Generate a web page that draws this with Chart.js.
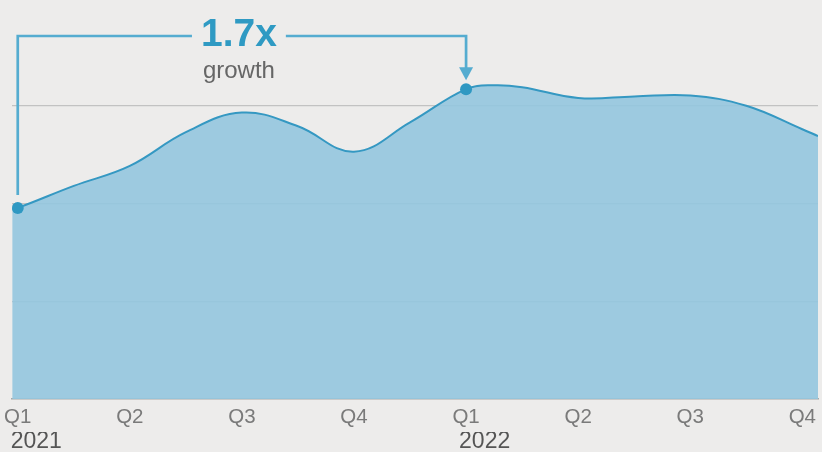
<!DOCTYPE html>
<html lang="en">
<head>
<meta charset="UTF-8">
<title>Growth</title>
<script src="https://cdn.jsdelivr.net/npm/chart.js"></script>
<style>
  body { margin: 0; background: #edeceb; }
  #wrap { width: 822px; height: 452px; position: relative; }
</style>
</head>
<body>
<div id="wrap"><canvas id="growthChart"></canvas></div>
<script>
// x runs in quarters: 0 = Q1 2021, 4 = Q1 2022, 7 = Q4 2022
const xValues = [-0.05, 0, 0.5, 1, 1.5, 2, 2.5, 3, 3.5, 4, 4.25, 4.5, 5, 5.5, 6, 6.5, 7, 7.14];
const yValues = [1.95, 1.955, 2.18, 2.385, 2.73, 2.93, 2.79, 2.53, 2.83, 3.17, 3.21, 3.19, 3.08, 3.095, 3.105, 3.0, 2.76, 2.69];
const quarterLabels = ['Q1', 'Q2', 'Q3', 'Q4', 'Q1', 'Q2', 'Q3', 'Q4'];
const yearTicks = [0, 4];
const yearLabels = ['2021', '2022'];
const gridValues = [0, 1, 2, 3, 4];
const startIndex = 1;   // Q1 2021 marker
const endIndex = 9;     // Q1 2022 marker
const growthText = '1.7x';
const growthSub = 'growth';

const FONT = "'Liberation Sans', Arial, Helvetica, sans-serif";

const growthBracket = {
    id: 'growthBracket',
    afterDatasetsDraw(chart) {
        const { ctx, scales: { x, y } } = chart;
        const xa = x.getPixelForValue(xValues[startIndex]);
        const ya = y.getPixelForValue(yValues[startIndex]);
        const xb = x.getPixelForValue(xValues[endIndex]);
        const yb = y.getPixelForValue(yValues[endIndex]);
        const top = 36;
        const mid = (xa + xb) / 2 - 3;

        ctx.save();
        ctx.font = "bold 39px " + FONT;
        const tw = ctx.measureText(growthText).width;
        ctx.strokeStyle = '#55acd0';
        ctx.lineWidth = 2.7;
        ctx.beginPath();
        ctx.moveTo(xa, ya - 13);
        ctx.lineTo(xa, top);
        ctx.lineTo(mid - tw / 2 - 9, top);
        ctx.moveTo(mid + tw / 2 + 9, top);
        ctx.lineTo(xb, top);
        ctx.lineTo(xb, yb - 20);
        ctx.stroke();

        // arrow head
        ctx.fillStyle = '#55acd0';
        ctx.beginPath();
        ctx.moveTo(xb - 7, yb - 22);
        ctx.lineTo(xb + 7, yb - 22);
        ctx.lineTo(xb, yb - 9);
        ctx.closePath();
        ctx.fill();

        ctx.textAlign = 'center';
        ctx.textBaseline = 'alphabetic';
        ctx.fillStyle = '#2f9ac3';
        ctx.fillText(growthText, mid, 46);
        ctx.font = "24px " + FONT;
        ctx.fillStyle = '#666666';
        ctx.fillText(growthSub, mid, 78);
        ctx.restore();
    }
};

new Chart(document.getElementById('growthChart'), {
    type: 'line',
    data: {
        datasets: [{
            data: xValues.map((v, i) => ({ x: v, y: yValues[i] })),
            borderColor: '#3598c2',
            borderWidth: 2,
            backgroundColor: 'rgba(147, 199, 223, 0.9)',
            fill: 'start',
            tension: 0.4,
            pointRadius: ctx => (ctx.dataIndex === startIndex || ctx.dataIndex === endIndex) ? 6 : 0,
            pointBackgroundColor: '#2f98c2',
            pointBorderWidth: 0,
            pointHoverRadius: 0
        }]
    },
    options: {
        responsive: true,
        maintainAspectRatio: false,
        animation: false,
        layout: { padding: { left: 11, right: 4, top: 8, bottom: 0 } },
        plugins: { legend: { display: false }, tooltip: { enabled: false } },
        scales: {
            x: {
                type: 'linear',
                min: xValues[0],
                max: xValues[xValues.length - 1],
                grid: { display: false, drawTicks: false },
                border: { display: true, color: '#a8a8a8', width: 1.5 },
                afterBuildTicks: ax => { ax.ticks = quarterLabels.map((l, i) => ({ value: i })); },
                afterFit: ax => { ax.height = 33; },
                ticks: {
                    callback: v => quarterLabels[v],
                    autoSkip: false,
                    maxRotation: 0,
                    padding: 4,
                    color: '#7a7a7a',
                    font: { family: FONT, size: 20.5, lineHeight: 1.356 }
                }
            },
            x2: {
                type: 'linear',
                position: 'bottom',
                min: xValues[0],
                max: xValues[xValues.length - 1],
                grid: { display: false, drawTicks: false },
                border: { display: false },
                afterBuildTicks: ax => { ax.ticks = yearTicks.map(v => ({ value: v })); },
                afterFit: ax => { ax.height = 20; },
                ticks: {
                    callback: v => yearLabels[yearTicks.indexOf(v)],
                    autoSkip: false,
                    maxRotation: 0,
                    align: 'start',
                    labelOffset: -7,
                    padding: 0,
                    color: '#555555',
                    font: { family: FONT, size: 23, lineHeight: 0.87 }
                }
            },
            y: {
                min: 0,
                max: 4,
                afterBuildTicks: ax => { ax.ticks = gridValues.map(v => ({ value: v })); },
                grid: {
                    drawTicks: false,
                    lineWidth: 1.3,
                    color: ctx => (ctx.tick && ctx.tick.value > 0 && ctx.tick.value < 4) ? '#c2c2c2' : 'rgba(0,0,0,0)'
                },
                border: { display: false },
                ticks: { display: false, padding: 0 }
            }
        }
    },
    plugins: [growthBracket]
});
</script>
</body>
</html>
